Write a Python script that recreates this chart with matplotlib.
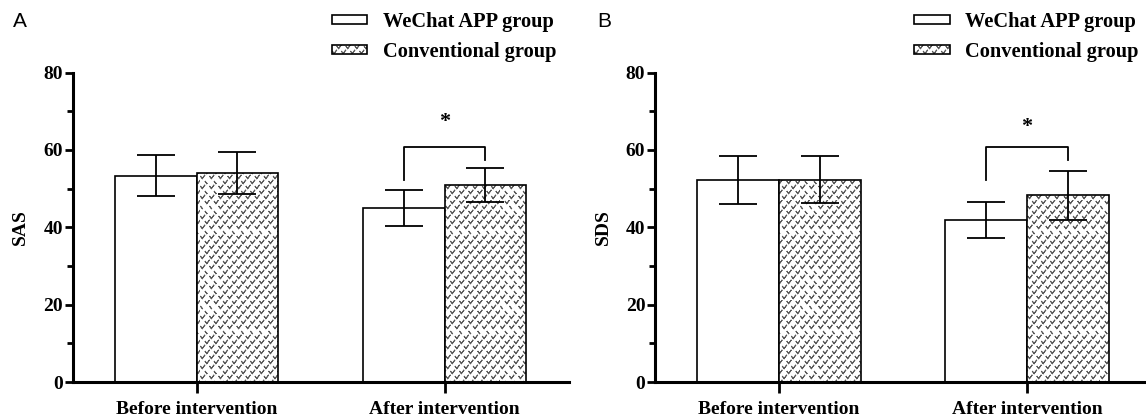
import numpy as np
import matplotlib
matplotlib.use("Agg")
import matplotlib.pyplot as plt
import matplotlib.hatch as mhatch
from matplotlib.path import Path
from matplotlib.patches import Patch
from matplotlib.legend_handler import HandlerTuple
from matplotlib.ticker import MultipleLocator

categories = ["Before intervention", "After intervention"]
group_labels = ["WeChat APP group", "Conventional group"]

sas_wechat = [53.3, 45.0]
sas_wechat_sd = [5.3, 4.7]
sas_conv = [54.1, 51.0]
sas_conv_sd = [5.4, 4.4]

sds_wechat = [52.1, 41.9]
sds_wechat_sd = [6.2, 4.7]
sds_conv = [52.3, 48.3]
sds_conv_sd = [6.0, 6.3]

# bracket over "After intervention": top, left foot, right foot, star baseline
sas_bracket = [60.7, 52.1, 57.3, 66.0]
sds_bracket = [60.8, 52.2, 57.4, 64.5]


class VHatch(mhatch.HatchPatternBase):
    """Staggered little 'v' marks, takes over the '*' hatch character."""

    def __init__(self, hatch, density):
        if "*" in hatch:
            self.rows, self.cols = 20, 11
        else:
            self.rows, self.cols = 0, 0
        self.num_vertices = self.rows * self.cols * 5

    def set_vertices_and_codes(self, vertices, codes):
        hw, hh = 0.016, 0.011
        # retrace the stroke so the fill pass adds nothing
        shape = np.array([[-hw, hh], [0, -hh], [hw, hh], [0, -hh], [-hw, hh]])
        k = 0
        for j in range(self.rows):
            y = (j + 0.5) / self.rows
            for i in range(self.cols):
                x = (i + 0.25 + 0.5 * (j % 2)) / self.cols
                vertices[k:k + 5] = shape + [x, y]
                codes[k] = Path.MOVETO
                codes[k + 1:k + 5] = Path.LINETO
                k += 5


mhatch._hatch_types = [t for t in mhatch._hatch_types if t is not mhatch.Stars] + [VHatch]

plt.rcParams["font.family"] = ["Liberation Serif", "DejaVu Serif"]
plt.rcParams["font.weight"] = "bold"
plt.rcParams["axes.labelweight"] = "bold"
plt.rcParams["font.size"] = 14
plt.rcParams["hatch.color"] = "#5a5a5a"
plt.rcParams["hatch.linewidth"] = 0.7

W, H = 1146, 419
fig = plt.figure(figsize=(W / 100, H / 100), dpi=100)

ax_a = fig.add_axes([72.5 / W, 1 - 382 / H, 496 / W, 309.5 / H])
ax_b = fig.add_axes([655 / W, 1 - 382 / H, 496 / W, 309.5 / H])


def draw_panel(ax, wechat, wechat_sd, conv, conv_sd, bracket, ylabel):
    x = np.arange(len(categories))
    w = 0.33
    xw = x - w / 2
    xc = x + w / 2
    ax.bar(xw, wechat, w, color="white", edgecolor="black", linewidth=1.2, zorder=2)
    ax.bar(xc, conv, w, color="white", hatch="*", linewidth=0, zorder=2)
    ax.bar(xc, conv, w, fill=False, edgecolor="black", linewidth=1.2, zorder=3)
    for xs, m, sd in [(xw, wechat, wechat_sd), (xc, conv, conv_sd)]:
        ax.errorbar(xs, m, yerr=sd, fmt="none", ecolor="black", elinewidth=1.3,
                    capsize=13.5, capthick=1.3, zorder=4)

    top, left_foot, right_foot, star_y = bracket
    ax.plot([xw[1], xw[1], xc[1], xc[1]], [left_foot, top, top, right_foot],
            color="black", linewidth=1.3, zorder=4)
    ax.text(x[1], star_y, "*", ha="center", va="baseline", fontsize=16)

    ax.set_xlim(-0.5, 1.5)
    ax.set_ylim(0, 80)
    ax.set_xticks(x, categories)
    ax.yaxis.set_major_locator(MultipleLocator(20))
    ax.yaxis.set_minor_locator(MultipleLocator(10))
    ax.tick_params(axis="y", which="major", length=6, width=2, pad=1)
    ax.tick_params(axis="y", which="minor", length=4, width=2)
    ax.tick_params(axis="x", length=8, width=2, pad=6)
    for s in ["top", "right"]:
        ax.spines[s].set_visible(False)
    for s in ["left", "bottom"]:
        ax.spines[s].set_linewidth(2.2)
    ax.set_ylabel(ylabel, labelpad=10)

    h_plain = Patch(facecolor="white", edgecolor="black", linewidth=1.2)
    h_hatch = Patch(facecolor="white", hatch="*", linewidth=0)
    h_edge = Patch(facecolor="none", edgecolor="black", linewidth=1.2)
    ax.legend([h_plain, (h_hatch, h_edge)], group_labels,
              handler_map={tuple: HandlerTuple(ndivide=1)},
              loc="upper left", bbox_to_anchor=(0.5226, 1.197), frameon=False,
              borderpad=0, borderaxespad=0, handlelength=1.75, handleheight=0.3,
              handletextpad=0.75, labelspacing=0.52, fontsize=14.7)


draw_panel(ax_a, sas_wechat, sas_wechat_sd, sas_conv, sas_conv_sd, sas_bracket, "SAS")
draw_panel(ax_b, sds_wechat, sds_wechat_sd, sds_conv, sds_conv_sd, sds_bracket, "SDS")

fig.text(13 / W, 1 - 12 / H, "A", family="Liberation Sans", fontweight="normal",
         fontsize=15, va="top", ha="left")
fig.text(597 / W, 1 - 12 / H, "B", family="Liberation Sans", fontweight="normal",
         fontsize=15, va="top", ha="left")

fig.savefig("out.png", dpi=100)
